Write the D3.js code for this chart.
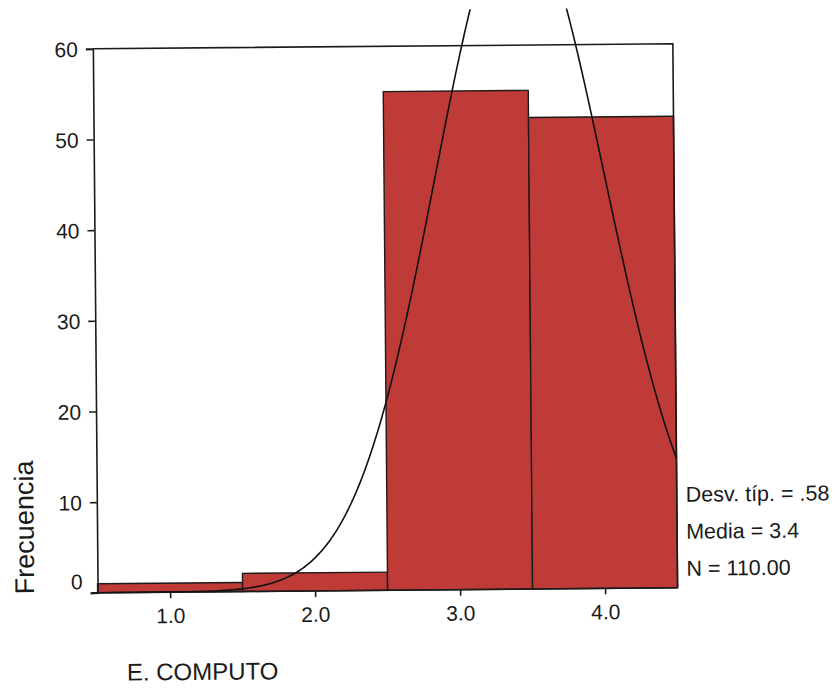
<!DOCTYPE html>
<html>
<head>
<meta charset="utf-8">
<script src="https://cdn.jsdelivr.net/npm/d3@7"></script>
<style>
  html, body { margin: 0; padding: 0; background: #ffffff; }
  svg { display: block; font-family: Arial, "Liberation Sans", Helvetica, sans-serif; }
</style>
</head>
<body>
<svg id="chart" width="835" height="698"></svg>
<script>
// Histogram bins (class marks) and their frequencies
const binCenters = [1, 2, 3, 4];
const binCounts = [1, 2, 55, 52];
const binWidth = 1;

// Axis ticks
const yTicks = [0, 10, 20, 30, 40, 50, 60];
const xTicks = [1, 2, 3, 4];

// Text
const xTitle = "E. COMPUTO";
const yTitle = "Frecuencia";

// Summary statistics derived from the bins
const N = d3.sum(binCounts);
const mean = d3.sum(binCenters, (c, i) => c * binCounts[i]) / N;
const sd = Math.sqrt(d3.sum(binCenters, (c, i) => binCounts[i] * (c - mean) ** 2) / (N - 1));
const statLines = [
  "Desv. típ. = " + d3.format(".2f")(sd).replace(/^0/, ""),
  "Media = " + d3.format(".1f")(mean),
  "N = " + d3.format(".2f")(N)
];

// Normal curve is cut off above this frequency
const curveCap = 64;

const svg = d3.select("#chart");
const W = 835, H = 698;
const plot = { left: 95.5, right: 675.5, top: 46, bottom: 590 };

const x = d3.scaleLinear().domain([0.5, 4.5]).range([plot.left, plot.right]);
const y = d3.scaleLinear().domain([0, 60]).range([plot.bottom, plot.top]);

// whole page sits very slightly askew
const g = svg.append("g").attr("transform", `rotate(-0.5, ${W / 2}, ${H / 2})`);

const ink = "#1e1a1a";
const textInk = "#1a1a1a";
const barFill = "#bf3b38";
const font = "Arial, 'Liberation Sans', sans-serif";

// Bars
g.append("g").selectAll("rect")
  .data(binCenters)
  .join("rect")
  .attr("x", d => x(d - binWidth / 2))
  .attr("width", x(binWidth) - x(0))
  .attr("y", (d, i) => y(binCounts[i]))
  .attr("height", (d, i) => y(0) - y(binCounts[i]))
  .attr("fill", barFill)
  .attr("stroke", ink)
  .attr("stroke-width", 1.4);

// Plot frame (top and right sides)
g.append("path")
  .attr("d", `M${plot.left},${y(60)}H${plot.right}V${y(0)}`)
  .attr("fill", "none")
  .attr("stroke", ink)
  .attr("stroke-width", 1.6);

// Y axis
const yAxis = g.append("g").attr("transform", `translate(${plot.left},0)`)
  .call(d3.axisLeft(y).tickValues(yTicks).tickSize(7).tickPadding(8).tickFormat(d3.format("d")));
yAxis.select(".domain").attr("stroke", ink).attr("stroke-width", 1.6);
yAxis.selectAll(".tick line").attr("stroke", ink).attr("stroke-width", 1.6);
yAxis.selectAll(".tick text")
  .attr("fill", textInk)
  .attr("font-size", 21)
  .attr("font-family", font)
  .attr("dy", d => d === 0 ? "-0.2em" : "0.36em");

// X axis
const xAxis = g.append("g").attr("transform", `translate(0,${plot.bottom})`)
  .call(d3.axisBottom(x).tickValues(xTicks).tickSize(6).tickPadding(10).tickFormat(d3.format(".1f")));
xAxis.select(".domain").remove();
xAxis.append("line")
  .attr("x1", plot.left - 6).attr("x2", plot.right)
  .attr("stroke", ink).attr("stroke-width", 1.6);
xAxis.selectAll(".tick line").attr("stroke", ink).attr("stroke-width", 1.6);
xAxis.selectAll(".tick text")
  .attr("fill", textInk)
  .attr("font-size", 21)
  .attr("font-family", font);

// Fitted normal curve
const normal = v => N * binWidth * Math.exp(-0.5 * ((v - mean) / sd) ** 2) / (sd * Math.sqrt(2 * Math.PI));
const curvePts = d3.range(0.5, 4.5001, 0.01).map(v => [v, normal(v)]);

svg.append("defs").append("clipPath").attr("id", "curveClip")
  .append("rect")
  .attr("x", plot.left).attr("y", y(curveCap))
  .attr("width", plot.right - plot.left)
  .attr("height", y(0) - y(curveCap));

g.append("path")
  .datum(curvePts)
  .attr("clip-path", "url(#curveClip)")
  .attr("fill", "none")
  .attr("stroke", "#111")
  .attr("stroke-width", 1.6)
  .attr("d", d3.line().x(d => x(d[0])).y(d => y(d[1])));

// Statistics block
g.append("g").selectAll("text")
  .data(statLines)
  .join("text")
  .attr("x", plot.right + 9)
  .attr("y", (d, i) => 504 + i * 37)
  .attr("font-size", 21.5)
  .attr("font-family", font)
  .attr("fill", textInk)
  .text(d => d);

// Axis titles
g.append("text")
  .attr("transform", `translate(32,${(y(0) + 458) / 2}) rotate(-90)`)
  .attr("text-anchor", "middle")
  .attr("font-size", 27)
  .attr("font-family", font)
  .attr("fill", textInk)
  .text(yTitle);

g.append("text")
  .attr("x", 124)
  .attr("y", 678)
  .attr("font-size", 24)
  .attr("font-family", font)
  .attr("fill", textInk)
  .text(xTitle);
</script>
</body>
</html>
